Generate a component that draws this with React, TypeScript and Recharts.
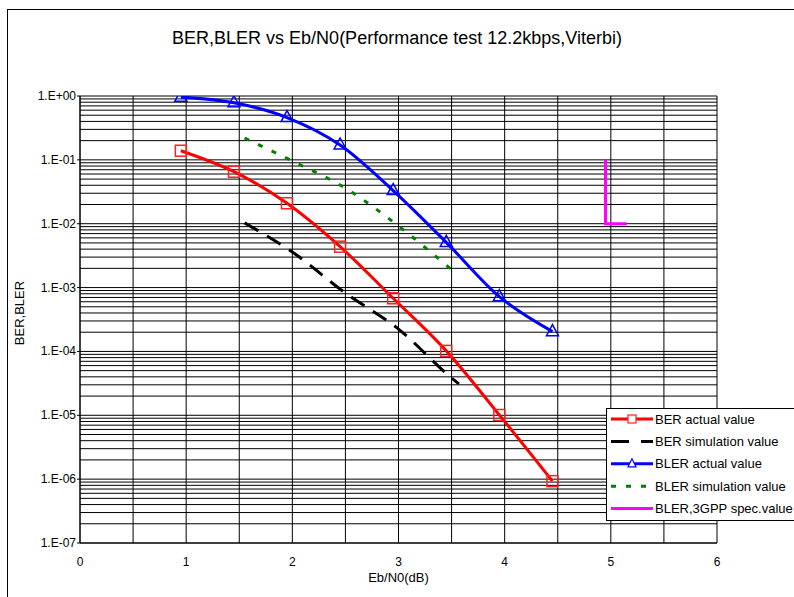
import React from "react";
import { LineChart, Line, XAxis, YAxis, CartesianGrid } from "recharts";

// Eb/N0 points of the measured curves
const ebn0 = [0.95, 1.45, 1.95, 2.45, 2.95, 3.45, 3.95, 4.45];
const berActual = [0.139, 0.0653, 0.0209, 0.00437, 0.00068, 0.000102, 0.0000101, 0.00000093];
const blerActual = [0.96, 0.785, 0.46, 0.171, 0.033, 0.0051, 0.00072, 0.000204];

// simulation curves
const berSimX = [1.55, 2.0, 2.5, 3.0, 3.5, 3.57];
const berSim = [0.0103, 0.0036, 0.00082, 0.000224, 0.0000384, 0.000031];
const blerSimX = [1.55, 2.0, 2.5, 3.0, 3.5];
const blerSim = [0.22, 0.096, 0.036, 0.0092, 0.0019];

// 3GPP spec limit
const specX = [4.95, 4.95, 5.15];
const specY = [0.1, 0.01, 0.01];

const xTicks = [0, 0.5, 1, 1.5, 2, 2.5, 3, 3.5, 4, 4.5, 5, 5.5, 6];
const decades = [1e-7, 1e-6, 1e-5, 1e-4, 1e-3, 1e-2, 1e-1, 1];
const decadeLabels = ["1.E-07", "1.E-06", "1.E-05", "1.E-04", "1.E-03", "1.E-02", "1.E-01", "1.E+00"];
const minorSteps = [1, 2, 3, 4, 5, 6, 7, 8, 9];

const yTicks: number[] = [];
decades.forEach((d, i) => {
  if (i === decades.length - 1) {
    yTicks.push(d);
    return;
  }
  minorSteps.forEach((m) => yTicks.push(m * d));
});

const zip = (xs: number[], ys: number[]) => xs.map((x, i) => ({ x, y: ys[i] }));

const FONT = "'Liberation Sans', Arial, sans-serif";

const legendItems = [
  { label: "BER actual value", color: "#ff0000", dash: undefined, marker: "square" },
  { label: "BER simulation value", color: "#000000", dash: "18 12", marker: null },
  { label: "BLER actual value", color: "#0000ff", dash: undefined, marker: "triangle" },
  { label: "BLER simulation value", color: "#008000", dash: "5 10", marker: null },
  { label: "BLER,3GPP spec.value", color: "#ff00ff", dash: undefined, marker: null },
];

function Square(props: any) {
  const { cx, cy, index } = props;
  if (cx == null || cy == null) return <g key={index} />;
  return <rect key={index} x={cx - 5.5} y={cy - 5.5} width={11} height={11} fill="none" stroke="#ff2020" strokeWidth={1.5} />;
}

function Triangle(props: any) {
  const { cx, cy, index } = props;
  if (cx == null || cy == null) return <g key={index} />;
  const pts = `${cx},${cy - 7} ${cx - 6},${cy + 4} ${cx + 6},${cy + 4}`;
  return <polygon key={index} points={pts} fill="none" stroke="#0000ff" strokeWidth={1.5} />;
}

function YTick(props: any) {
  const { x, y, payload } = props;
  const i = decades.findIndex((d) => Math.abs(Math.log10(d) - Math.log10(payload.value)) < 1e-9);
  if (i < 0) return <g />;
  return (
    <g>
      <line x1={x + 1} x2={x + 4} y1={y} y2={y} stroke="#000" />
      <text x={x} y={y} textAnchor="end" dominantBaseline="central" fontSize={12} fontFamily={FONT} fill="#000">
        {decadeLabels[i]}
      </text>
    </g>
  );
}

function XTick(props: any) {
  const { x, y, payload } = props;
  if (!Number.isInteger(payload.value)) return <g />;
  return (
    <text x={x} y={y + 17} textAnchor="middle" dominantBaseline="central" fontSize={12} fontFamily={FONT} fill="#000">
      {payload.value}
    </text>
  );
}

function LegendBox() {
  return (
    <div style={{ position: "absolute", left: 606, top: 408, width: 200, height: 113, border: "1px solid #000", background: "#fff", boxSizing: "border-box" }}>
      <svg width={200} height={113} style={{ display: "block" }}>
        {legendItems.map((it, i) => {
          const y = 10 + i * 22.4;
          return (
            <g key={it.label}>
              <line x1={4} x2={46} y1={y} y2={y} stroke={it.color} strokeWidth={3} strokeDasharray={it.dash} />
              {it.marker === "square" && <rect x={21} y={y - 4} width={8} height={8} fill="#fff" stroke="#ff2020" strokeWidth={1.2} />}
              {it.marker === "triangle" && (
                <polygon points={`25,${y - 5} 21,${y + 3} 29,${y + 3}`} fill="#fff" stroke="#0000ff" strokeWidth={1.2} />
              )}
              <text x={48} y={y} dominantBaseline="central" fontSize={13} fontFamily={FONT} fill="#000">
                {it.label}
              </text>
            </g>
          );
        })}
      </svg>
    </div>
  );
}

export default function App() {
  return (
    <div style={{ position: "absolute", left: 0, top: 0, width: 794, height: 597, overflow: "hidden", background: "#fff", fontFamily: FONT }}>
      <div style={{ position: "absolute", left: 7, top: 9, width: 820, height: 620, borderLeft: "1px solid #000", borderTop: "1px solid #000" }} />
      <div style={{ position: "absolute", left: 0, top: 28, width: 794, textAlign: "center", fontSize: 18, lineHeight: "20px" }}>
        BER,BLER vs Eb/N0(Performance test 12.2kbps,Viterbi)
      </div>
      <div
        style={{
          position: "absolute",
          left: 19,
          top: 313,
          fontSize: 13,
          whiteSpace: "nowrap",
          transform: "translate(-50%, -50%) rotate(-90deg)",
        }}
      >
        BER,BLER
      </div>
      <div style={{ position: "absolute", left: 0, top: 570, width: 797, textAlign: "center", fontSize: 13, lineHeight: "15px" }}>
        Eb/N0(dB)
      </div>
      <div style={{ position: "absolute", left: 0, top: 0 }}>
        <LineChart width={794} height={597} margin={{ top: 96, right: 77, bottom: 24, left: 10 }}>
          <CartesianGrid stroke="#000" strokeWidth={1} />
          <XAxis
            type="number"
            dataKey="x"
            domain={[0, 6]}
            ticks={xTicks}
            interval={0}
            height={30}
            tickSize={0}
            tickLine={false}
            tick={<XTick />}
            axisLine={{ stroke: "#000" }}
            allowDataOverflow
          />
          <YAxis
            type="number"
            scale="log"
            domain={[1e-7, 1]}
            ticks={yTicks}
            interval={0}
            width={70}
            tickSize={0}
            tickMargin={4}
            tickLine={false}
            tick={<YTick />}
            axisLine={{ stroke: "#000" }}
            allowDataOverflow
          />
          <Line data={zip(berSimX, berSim)} dataKey="y" type="monotone" stroke="#000" strokeWidth={3} strokeDasharray="16 10" dot={false} isAnimationActive={false} />
          <Line data={zip(blerSimX, blerSim)} dataKey="y" type="monotone" stroke="#008000" strokeWidth={3} strokeDasharray="5 10" dot={false} isAnimationActive={false} />
          <Line data={zip(specX, specY)} dataKey="y" type="linear" stroke="#ff00ff" strokeWidth={3} dot={false} isAnimationActive={false} />
          <Line data={zip(ebn0, berActual)} dataKey="y" type="monotone" stroke="#ff0000" strokeWidth={3} dot={<Square />} isAnimationActive={false} />
          <Line data={zip(ebn0, blerActual)} dataKey="y" type="monotone" stroke="#0000ff" strokeWidth={3} dot={<Triangle />} isAnimationActive={false} />
        </LineChart>
      </div>
      <LegendBox />
    </div>
  );
}
